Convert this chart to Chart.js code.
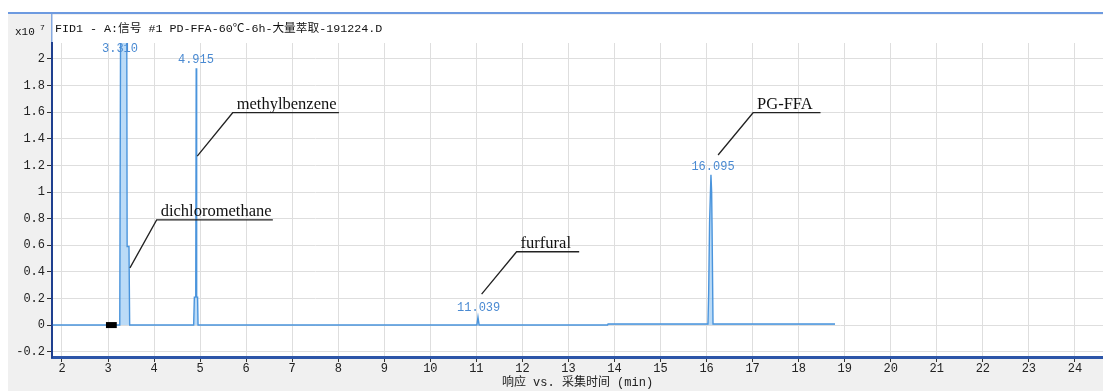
<!DOCTYPE html>
<html>
<head>
<meta charset="utf-8">
<script src="https://cdn.jsdelivr.net/npm/chart.js@4/dist/chart.umd.min.js"></script>
<style>
  html, body { margin: 0; padding: 0; background: #ffffff; }
  #wrap { position: relative; width: 1103px; height: 391px; }
</style>
</head>
<body>
<div id="wrap"><canvas id="c"></canvas></div>
<script>
// ---- data (retention time in min, response in x10^7) ----
const retentionTime = [1.80, 3.255, 3.275, 3.405, 3.415, 3.455, 3.47, 4.86, 4.875, 4.905, 4.915, 4.925, 4.945, 4.955,
  11.01, 11.035, 11.06, 13.85, 13.86, 16.03, 16.045, 16.065, 16.095, 16.11, 16.118, 16.14, 18.79];
const response = [0, 0, 2.6, 2.6, 0.59, 0.59, 0, 0, 0.21, 0.21, 1.93, 0.21, 0.21, 0,
  0, 0.06, 0, 0, 0.008, 0.008, 0.24, 0.77, 1.13, 1.0, 0.77, 0.008, 0.008];
const eventMarkerTime = [2.955, 3.19];
const eventMarkerValue = [0, 0];
const xTicks = [2,3,4,5,6,7,8,9,10,11,12,13,14,15,16,17,18,19,20,21,22,23,24];
const yTicks = [-0.2, 0, 0.2, 0.4, 0.6, 0.8, 1, 1.2, 1.4, 1.6, 1.8, 2];
const peakLabels = ['3.310', '4.915', '11.039', '16.095'];
const peakLabelTime = [3.26, 4.91, 11.05, 16.14];
const peakLabelValue = [2.075, 1.99, 0.128, 1.188];
const compoundNames = ['dichloromethane', 'methylbenzene', 'furfural', 'PG-FFA'];
const leaderStart = [[3.476, 0.43], [4.938, 1.27], [11.114, 0.233], [16.25, 1.278]];
const leaderElbow = [[4.056, 0.79], [5.707, 1.596], [11.874, 0.551], [17.01, 1.596]];
const leaderEndTime = [6.58, 8.015, 13.233, 18.475];

const chartTitle = 'FID1 - A:信号 #1 PD-FFA-60℃-6h-大量萃取-191224.D';
const xTitle = '响应 vs. 采集时间 (min)';

const MONO = "'Liberation Mono', 'Noto Sans CJK SC', monospace";
const LINE = '#4a94dc';

const trace = retentionTime.map((t, i) => ({ x: t, y: response[i] }));
const marker = eventMarkerTime.map((t, i) => ({ x: t, y: eventMarkerValue[i] }));

const decor = {
  id: 'decor',
  beforeDraw(chart) {
    const { ctx, width, height, chartArea: ca } = chart;
    ctx.save();
    ctx.fillStyle = '#ffffff';
    ctx.fillRect(0, 0, width, height);
    ctx.fillStyle = '#f0f0f0';
    ctx.fillRect(8, 14, width - 8, height - 14);
    ctx.fillStyle = '#ffffff';
    ctx.fillRect(ca.left, 15, width - ca.left, ca.bottom - 15);
    ctx.fillStyle = '#6d9ae0';
    ctx.fillRect(8, 12, width - 8, 2);
    ctx.fillStyle = '#86a9e0';
    ctx.fillRect(ca.left - 1, 14, 1.5, ca.top - 14);
    // title
    ctx.fillStyle = '#111';
    ctx.font = '11.7px ' + MONO;
    ctx.textBaseline = 'middle';
    ctx.textAlign = 'left';
    ctx.fillText(chartTitle, 55, 29);
    // exponent label
    ctx.font = '11px ' + MONO;
    ctx.fillText('x10', 15, 32);
    ctx.font = '8px ' + MONO;
    ctx.fillText('7', 40, 28);
    ctx.restore();
  },
  afterDatasetsDraw(chart) {
    const { ctx } = chart;
    const xs = chart.scales.x, ys = chart.scales.y;
    ctx.save();
    // peak labels
    ctx.font = '12px ' + MONO;
    ctx.fillStyle = '#4a8ad2';
    ctx.textAlign = 'center';
    ctx.textBaseline = 'middle';
    peakLabels.forEach((lab, i) => {
      ctx.fillText(lab, xs.getPixelForValue(peakLabelTime[i]), ys.getPixelForValue(peakLabelValue[i]));
    });
    // compound annotations
    ctx.strokeStyle = '#222';
    ctx.fillStyle = '#111';
    ctx.lineWidth = 1.3;
    ctx.font = '16.5px "Liberation Serif", "Times New Roman", serif';
    ctx.textAlign = 'left';
    ctx.textBaseline = 'alphabetic';
    compoundNames.forEach((name, i) => {
      const x0 = xs.getPixelForValue(leaderStart[i][0]);
      const y0 = ys.getPixelForValue(leaderStart[i][1]);
      const x1 = xs.getPixelForValue(leaderElbow[i][0]);
      const y1 = ys.getPixelForValue(leaderElbow[i][1]);
      const x2 = xs.getPixelForValue(leaderEndTime[i]);
      ctx.beginPath();
      ctx.moveTo(x0, y0);
      ctx.lineTo(x1, y1);
      ctx.lineTo(x2, y1);
      ctx.stroke();
      ctx.fillText(name, x1 + 4, y1 - 4);
    });
    ctx.restore();
  }
};

new Chart(document.getElementById('c'), {
  type: 'line',
  data: {
    datasets: [
      {
        data: trace,
        borderColor: LINE,
        borderWidth: 1.4,
        backgroundColor: 'rgba(150, 200, 242, 0.65)',
        fill: 'origin',
        pointRadius: 0,
        tension: 0,
        order: 1
      },
      {
        data: marker,
        borderColor: '#000',
        borderWidth: 6,
        borderCapStyle: 'butt',
        pointRadius: 0,
        fill: false,
        order: 0
      }
    ]
  },
  options: {
    animation: false,
    responsive: true,
    maintainAspectRatio: false,
    devicePixelRatio: 1,
    layout: { padding: { top: 43, left: 0, right: 0, bottom: 0 } },
    plugins: { legend: { display: false }, tooltip: { enabled: false } },
    scales: {
      x: {
        type: 'linear',
        min: 1.783,
        max: 24.61,
        afterBuildTicks: s => { s.ticks = xTicks.map(v => ({ value: v })); },
        afterFit: s => { s.height = 34; },
        grid: { color: '#dedede', tickColor: '#333', tickLength: 5, lineWidth: 1 },
        border: { color: '#2c55a8', width: 3 },
        ticks: { font: { family: MONO, size: 12 }, color: '#222', padding: 0, maxRotation: 0, autoSkip: false,
                 callback: v => String(v) },
        title: { display: true, text: xTitle, font: { family: MONO, size: 12 }, color: '#222',
                 padding: { top: 0, bottom: 1 } }
      },
      y: {
        type: 'linear',
        min: -0.24,
        max: 2.12,
        afterBuildTicks: s => { s.ticks = yTicks.map(v => ({ value: v })); },
        afterFit: s => { s.width = 52; },
        grid: { color: '#dedede', tickColor: '#333', tickLength: 5, lineWidth: 1 },
        border: { color: '#1f3f8f', width: 2 },
        ticks: { font: { family: MONO, size: 12 }, color: '#222', padding: 2,
                 callback: v => String(Math.round(v * 10) / 10) }
      }
    }
  },
  plugins: [decor]
});
</script>
</body>
</html>
